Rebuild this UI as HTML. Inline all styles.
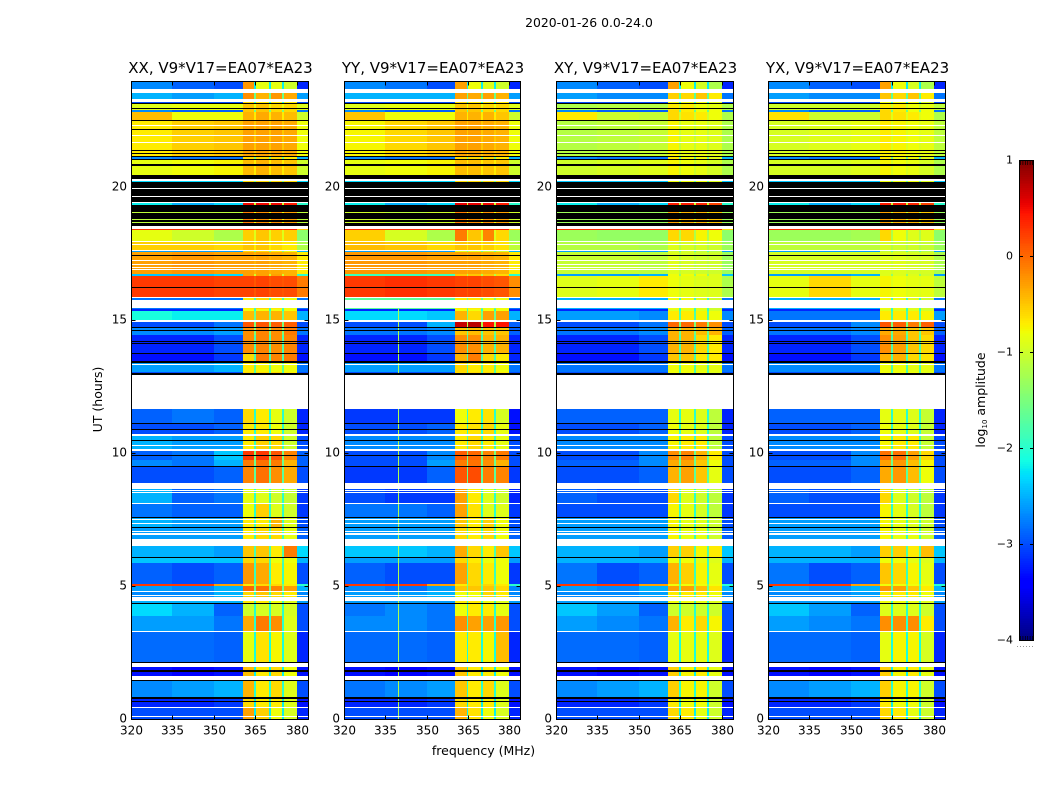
<!DOCTYPE html>
<html lang="en">
<head>
<meta charset="utf-8">
<title>2020-01-26 0.0-24.0</title>
<style>
html,body{margin:0;padding:0;background:#fff;width:1050px;height:800px;overflow:hidden}
svg{display:block}
text{font-family:"DejaVu Sans","Liberation Sans",sans-serif;fill:#000}
</style>
</head>
<body>
<svg id="chart" xmlns="http://www.w3.org/2000/svg" width="1050" height="800" viewBox="0 0 1050 800">
<rect x="0" y="0" width="1050" height="800" fill="#fff"/>
<text x="589" y="27" font-size="12.4" text-anchor="middle">2020-01-26 0.0-24.0</text>
<text x="483.5" y="755" font-size="12.5" text-anchor="middle">frequency (MHz)</text>
<text transform="translate(102,399.5) rotate(-90)" font-size="12.5" text-anchor="middle">UT (hours)</text>
<text transform="translate(985,400) rotate(-90)" font-size="12.5" text-anchor="middle">log<tspan font-size="7" dy="2">10</tspan><tspan dy="-2"> amplitude</tspan></text>
<g id="panels"></g>
<g id="colorbar"></g>
</svg>
<script>
// Edges of the time blocks, in UT hours, top to bottom
const timeEdges = [24,23.59,23.21,23.14,22.91,22.84,22.53,21.14,21.07,20.47,19.41,19.34,18.43,18.40,17.98,17.64,17.57,16.74,16.65,15.84,15.76,15.42,15.35,14.93,14.75,14.45,13.73,13.43,13.05,12.94,11.66,11.14,10.72,10.12,9.74,9.52,8.86,8.65,8.11,7.60,7.22,6.77,6.51,6.09,5.87,5.08,5.00,4.82,4.44,4.33,3.87,3.31,2.14,1.62,1.43,0.83,0.45,0];
// Frequency bin edges in MHz
const freqEdges = [320,335,350,360.5,364.6,365.2,369.9,370.5,374.7,375.3,380,384];
// Which value of a block row each frequency bin reads
const binValueIndex = [0,1,2,3,7,4,7,5,7,6,8];
const xTicks = [320,335,350,365,380];
const yTicks = [0,5,10,15,20];
const colorbarTicks = [1,0,-1,-2,-3,-4];
const panelTitles = ["XX, V9*V17=EA07*EA23","YY, V9*V17=EA07*EA23","XY, V9*V17=EA07*EA23","YX, V9*V17=EA07*EA23"];
// Hours with no data (drawn white)
const noDataHours = [[23.56,23.70],[23.21,23.31],[22.30,22.34],[21.93,21.97],[21.67,21.71],[20.24,20.31],[19.95,19.99],[19.65,19.69],[19.42,19.46],[18.45,18.55],[17.96,17.99],[17.82,17.86],[17.61,17.64],[17.25,17.28],[17.09,17.13],[16.97,17.00],[16.89,16.92],[15.84,15.86],[15.45,15.76],[14.94,15.01],[13.33,13.37],[11.65,12.94],[10.65,10.72],[10.27,10.31],[10.10,10.14],[8.65,8.86],[8.58,8.62],[8.53,8.55],[8.08,8.11],[7.47,7.51],[7.35,7.38],[7.04,7.07],[6.94,6.98],[6.52,6.78],[4.78,4.82],[4.65,4.68],[4.45,4.59],[3.27,3.31],[1.94,2.11],[1.47,1.62],[0.41,0.45],[0.08,0.11]];
// Flagged hours (drawn black)
const flaggedHours = [[23.14,23.17],[22.97,23.00],[22.51,22.55],[22.14,22.18],[21.39,21.42],[21.26,21.29],[21.14,21.18],[21.04,21.08],[20.82,20.86],[20.31,20.47],[19.99,20.20],[19.69,19.95],[19.46,19.65],[19.07,19.34],[18.82,19.04],[18.68,18.77],[18.55,18.64],[17.42,17.46],[16.21,16.25],[14.71,14.75],[14.60,14.63],[14.18,14.22],[14.11,14.15],[13.74,13.78],[13.40,13.45],[12.94,13.03],[11.10,11.14],[10.87,10.91],[10.46,10.50],[9.91,9.94],[9.47,9.51],[7.57,7.61],[7.19,7.22],[6.06,6.09],[4.32,4.35],[2.12,2.16],[1.82,1.86],[1.75,1.79],[1.43,1.47],[0.74,0.82],[0.64,0.68]];
// log10 amplitude per time block: low1, low2, low3, band1, band2, band3, band4, band gaps, high
const valuesXX = [
[-2.7,-2.9,-3,-.25,-.85,-.85,-1,-2.2,-3.2],[-2.5,-2.6,-2.5,-.2,-.4,-.25,-.35,-1.6,-2.6],[-3,-3,-3,-.6,-.7,-.7,-.7,-2,-3],[-.9,-.85,-.85,-.5,-.5,-.6,-.6,-.8,-.9],[-2.7,-2.9,-2.9,-.5,-.5,-.6,-.6,-1.5,-2.8],[-.45,-.8,-.8,-.4,-.35,-.4,-.45,-.7,-1],
[-.7,-.55,-.5,-.3,-.3,-.3,-.35,-.5,-.8],[-2.7,-2.8,-2.8,-.6,-.6,-.6,-.7,-1.5,-2.5],[-.85,-.8,-.75,-.45,-.4,-.45,-.5,-.7,-1],[-2.3,-2.3,-2.3,-.6,-.6,-.6,-.6,-1.5,-2.3],[-2.2,-2.5,-2.3,.5,.5,.5,.4,-1,-2],[-1.1,-1.1,-1.1,-.1,-.2,-.2,-.3,-.8,-1.1],
[.3,.3,.3,.4,.4,.4,.4,.3,-.5],[-.85,-1,-1.2,-.55,-.5,-.55,-.55,-.9,-1.4],[-.55,-.55,-.6,-.5,-.5,-.6,-.7,-.7,-1.2],[-2.6,-2.6,-2.6,-.6,-.6,-.7,-.8,-1.5,-2.5],[-.3,-.25,-.3,-.3,-.3,-.35,-.4,-.4,-.7],[-2.4,-2.4,-2.3,-.3,-.3,-.3,-.4,-1,-2],
[.25,.25,.2,.2,.2,.15,.15,.1,-.1],[-2.8,-2.8,-2.8,-.7,-.6,-.7,-.8,-1.8,-2.8],[-2.8,-2.8,-2.8,-.7,-.6,-.7,-.8,-1.8,-2.8],[-3.2,-3.2,-3.2,-.8,-.8,-.8,-.8,-2,-3.2],[-2.1,-2.2,-2.2,-.45,-.4,-.4,-.5,-1.6,-2.5],[-3,-3,-2.8,.1,.1,.05,.05,-1.5,-3],
[-2.7,-2.7,-2.6,-.2,-.15,-.2,-.1,-1.5,-2.8],[-3.2,-3.2,-3,-.2,-.15,-.2,-.15,-1.8,-3.2],[-3.3,-3.3,-3.1,-.6,-.1,-.15,-.1,-1.8,-3.3],[-2.6,-2.6,-2.5,-.7,-.75,-.8,-.8,-1.7,-2.8],[-3,-3,-3,-.6,-.6,-.6,-.7,-1.8,-3],[-3,-3,-3,-.7,-.7,-.7,-.7,-2,-3],
[-2.9,-2.8,-2.9,-.6,-.7,-.85,-1,-2,-3.2],[-3,-3,-2.9,-.7,-.7,-.8,-1,-2,-3.2],[-2.5,-2.6,-2.6,-.7,-.55,-.6,-1,-1.9,-3],[-2.9,-2.8,-2.4,.25,.25,.1,-.15,-1.5,-2.9],[-2.7,-2.8,-2.5,-.1,-.05,-.1,-.4,-1.6,-2.9],[-3,-3,-2.9,-.15,-.05,-.2,-.35,-1.7,-3],
[-3,-3,-3,-.7,-.7,-.7,-.7,-2,-3],[-2.5,-2.9,-2.8,-.85,-.9,-1,-1.05,-2,-3.1],[-2.8,-2.9,-2.9,-.8,-.55,-.9,-1,-2,-3.1],[-2.5,-2.6,-2.6,-.7,-.7,-.4,-.9,-1.9,-3],[-2.6,-2.6,-2.6,-.7,-.6,-.6,-.85,-1.9,-2.9],[-3,-3,-3,-.7,-.7,-.7,-.7,-2,-3],
[-2.5,-2.5,-2.6,-.5,-.5,-.7,-.1,-1.8,-2.3],[-2.4,-2.4,-2.4,-.6,-.6,-.8,-.8,-1.8,-2.5],[-2.9,-3,-2.9,-.25,-.35,-.7,-.75,-1.9,-3],[.25,.25,-.3,-.7,-.6,-.6,-.7,-1.5,-2],[-2.6,-2.7,-2.5,0,-.05,-.15,-.3,-1.6,-2.5],[-2.7,-2.7,-2.5,-.6,-.5,-.6,-.7,-1.9,-2.7],
[-2.5,-2.5,-2.5,-.7,-.7,-.8,-.9,-1.9,-2.6],[-2.3,-2.5,-2.9,-1,-.95,-.95,-.95,-2,-3],[-2.6,-2.6,-2.8,-.35,-.1,-.2,-.9,-2,-3],[-2.85,-2.85,-2.9,-.85,-.65,-.75,-.9,-2.1,-3.2],[-3.3,-3.4,-3.3,-.45,-.7,-.6,-.8,-2.2,-3.3],[-3,-3,-3,-.6,-.7,-.7,-.8,-2.2,-3],
[-2.7,-2.6,-2.5,-.4,-.7,-.6,-.9,-2,-3],[-3.2,-3.2,-3.1,-.6,-.7,-.7,-.9,-2.2,-3.3],[-3,-3,-3,-.3,-.55,-.8,-.95,-2.2,-3.2]];
const valuesYY = [
[-2.7,-2.8,-3,-.3,-.8,-.9,-1,-2.2,-3.2],[-2.5,-2.5,-2.5,-.3,-.35,-.3,-.4,-1.6,-2.6],[-3,-3,-3,-.6,-.7,-.7,-.7,-2,-3],[-.9,-.85,-.85,-.5,-.5,-.6,-.6,-.8,-.9],[-2.7,-2.9,-2.9,-.5,-.5,-.6,-.6,-1.5,-2.8],[-.5,-.8,-.8,-.4,-.4,-.4,-.5,-.7,-1],
[-.75,-.6,-.5,-.3,-.3,-.35,-.4,-.5,-.8],[-2.7,-2.8,-2.8,-.6,-.6,-.6,-.7,-1.5,-2.5],[-.85,-.8,-.75,-.45,-.45,-.5,-.5,-.7,-1],[-2.3,-2.3,-2.3,-.6,-.6,-.6,-.6,-1.5,-2.3],[-2.2,-2.5,-2.3,.55,.55,.5,.4,-1,-2],[-1,-1.1,-1,-.1,-.2,-.2,-.3,-.8,-1],
[.3,.3,.3,.4,.4,.4,.4,.3,-.5],[-.55,-.95,-1.2,-.1,-.5,-.15,-.6,-.9,-1.3],[-.45,-.5,-.6,-.5,-.5,-.55,-.65,-.7,-1.1],[-2.6,-2.6,-2.6,-.9,-.9,-1,-1,-1.6,-2.5],[-.25,-.25,-.3,-.3,-.3,-.35,-.4,-.4,-.7],[-1.9,-1.9,-1.9,-.5,-.5,-.5,-.6,-1.2,-2],
[.25,.3,.25,.2,.2,.15,.1,.1,-.2],[-1.7,-1.7,-1.7,-.7,-.7,-.8,-.8,-1.5,-2.8],[-1.7,-1.7,-1.7,-.7,-.7,-.8,-.8,-1.5,-2.8],[-3.2,-3.2,-3.2,-.8,-.8,-.8,-.8,-2,-3.2],[-2.3,-2.3,-2.4,-.4,-.6,-.3,-.3,-1.6,-2.5],[-3,-3,-2.5,.7,.75,.45,.45,-1.2,-2.9],
[-2.8,-2.8,-2.7,-.5,-.45,-.5,-.5,-1.6,-2.9],[-3.2,-3.2,-3,-.2,-.2,-.4,-.4,-1.8,-3.2],[-3.3,-3.3,-3.1,-.4,-.1,-.6,-.7,-1.8,-3.2],[-2.6,-2.6,-2.6,-.6,-.7,-.7,-.8,-1.7,-2.8],[-3,-3,-3,-.6,-.6,-.6,-.7,-1.8,-3],[-3,-3,-3,-.7,-.7,-.7,-.7,-2,-3],
[-3.1,-3.1,-3.1,-.8,-.7,-.65,-.95,-2,-3.3],[-3,-3,-2.9,-.7,-.65,-.6,-.85,-2,-3.3],[-2.7,-2.7,-2.7,-.7,-.6,-.7,-.85,-1.9,-3],[-3,-3,-2.7,.05,0,-.15,-.1,-1.5,-3],[-3,-3,-2.6,-.1,-.05,-.2,-.4,-1.6,-3],[-3.1,-3.1,-2.9,.1,.15,-.1,-.15,-1.7,-3.1],
[-3,-3,-3,-.7,-.7,-.7,-.7,-2,-3],[-3,-3.1,-3.1,-.3,-.7,-.9,-1,-2,-3.2],[-2.8,-2.8,-2.9,-.3,-.65,-.9,-.9,-2,-3.1],[-2.6,-2.6,-2.6,-.5,-.7,-.55,-.8,-1.9,-3],[-2.6,-2.6,-2.6,-.6,-.7,-.6,-.8,-1.9,-2.9],[-3,-3,-3,-.7,-.7,-.7,-.7,-2,-3],
[-2.4,-2.4,-2.5,-.35,-.6,-.7,-.5,-1.8,-2.4],[-2.6,-2.6,-2.6,-.6,-.7,-.8,-.8,-1.8,-2.6],[-2.9,-3,-3,-.3,-.6,-.7,-.8,-1.9,-3.1],[.25,.25,-.3,-.7,-.6,-.6,-.7,-1.5,-2],[-2.7,-2.8,-2.6,-.5,-.5,-.5,-.6,-1.7,-2.7],[-2.6,-2.6,-2.5,-.8,-.8,-.6,-.7,-1.9,-2.7],
[-2.6,-2.6,-2.6,-.7,-.7,-.8,-.9,-1.9,-2.6],[-2.8,-2.7,-2.8,-.8,-.7,-.7,-.85,-2,-3],[-2.7,-2.7,-2.8,-.2,-.3,-.3,-.25,-2,-3],[-2.85,-2.85,-2.9,-.7,-.7,-.75,-.45,-2.1,-3.2],[-3.3,-3.4,-3.3,-.5,-.7,-.7,-.8,-2.2,-3.3],[-3,-3,-3,-.6,-.7,-.7,-.8,-2.2,-3],
[-2.8,-2.7,-2.6,-.5,-.7,-.6,-.9,-2,-3],[-3.2,-3.2,-3.1,-.6,-.7,-.7,-.9,-2.2,-3.3],[-3,-3,-3,-.4,-.65,-.8,-.95,-2.2,-3.2]];
const valuesXY = [
[-2.7,-2.9,-3,-.3,-.8,-.95,-1.2,-2.2,-3.2],[-2.6,-2.7,-2.7,-.55,-.6,-.5,-.7,-1.7,-2.8],[-3,-3,-3,-.8,-.8,-.8,-.9,-2,-3],[-1.2,-1.15,-1.15,-.7,-.7,-.8,-.85,-1,-1.2],[-2.7,-2.9,-2.9,-.6,-.7,-.8,-.8,-1.6,-2.8],[-.7,-1,-1.05,-.6,-.65,-.7,-.8,-1,-1.2],
[-1.15,-1.1,-1.05,-.75,-.85,-.85,-.9,-1.05,-1.2],[-2.7,-2.8,-2.8,-.7,-.8,-.8,-.9,-1.6,-2.5],[-1,-.95,-.9,-.75,-.8,-.85,-.95,-1,-1.2],[-2.4,-2.4,-2.4,-.8,-.8,-.8,-.9,-1.6,-2.4],[-2.2,-2.5,-2.3,.4,.4,.35,.2,-1,-2],[-1.3,-1.3,-1.3,-.3,-.4,-.4,-.5,-1,-1.3],
[.3,.3,.3,.4,.4,.4,.3,.3,-.6],[-1.3,-1.35,-1.35,-.6,-.6,-.75,-.8,-1.2,-1.4],[-1.15,-1.15,-1.2,-.9,-.95,-.95,-1,-1.15,-1.3],[-2.6,-2.6,-2.6,-1,-1,-1.1,-1.2,-1.7,-2.6],[-1.05,-1.05,-1.1,-.9,-.95,-1,-1,-1.1,-1.3],[-2.6,-2.6,-2.5,-.8,-.8,-.8,-.9,-1.4,-2.4],
[-.9,-.85,-.7,-.8,-.85,-.9,-.9,-.95,-1.2],[-2.5,-2.5,-2.5,-.8,-.8,-.9,-1,-1.9,-2.8],[-2.5,-2.5,-2.5,-.8,-.8,-.9,-1,-1.9,-2.8],[-3.2,-3.2,-3.2,-.9,-.9,-.9,-1,-2,-3.2],[-2.6,-2.6,-2.7,-.7,-.7,-.75,-.8,-1.8,-2.7],[-3,-3,-2.8,0,0,-.1,-.2,-1.5,-3],
[-2.8,-2.8,-2.7,-.4,-.4,-.45,-.4,-1.6,-2.9],[-3.2,-3.2,-3,-.4,-.4,-.6,-.7,-1.8,-3.2],[-3.3,-3.3,-3.1,-.5,-.5,-.7,-.7,-1.8,-3.3],[-2.8,-2.8,-2.8,-.8,-.8,-.85,-.85,-1.8,-2.8],[-3,-3,-3,-.8,-.8,-.8,-.9,-1.8,-3],[-3,-3,-3,-.8,-.8,-.8,-.8,-2,-3],
[-2.9,-2.9,-2.9,-.85,-.85,-.9,-1.1,-2,-3.2],[-3,-3,-2.9,-.8,-.85,-.9,-1.1,-2,-3.2],[-2.7,-2.7,-2.7,-.75,-.7,-.7,-1.1,-1.9,-3],[-3,-3,-2.7,-.2,-.15,-.4,-.7,-1.6,-3],[-2.9,-2.9,-2.7,-.35,-.3,-.5,-.8,-1.6,-3],[-3,-3,-2.9,-.4,-.3,-.5,-.85,-1.7,-3],
[-3,-3,-3,-.8,-.8,-.8,-.9,-2,-3],[-2.9,-3,-3,-.6,-.9,-1,-1.1,-2,-3.1],[-3,-3,-3,-.75,-.85,-.95,-1.1,-2,-3.1],[-2.6,-2.6,-2.6,-.75,-.85,-.9,-1,-1.9,-3],[-2.6,-2.6,-2.6,-.75,-.85,-.85,-1,-1.9,-2.9],[-3,-3,-3,-.8,-.8,-.8,-.9,-2,-3],
[-2.5,-2.5,-2.6,-.55,-.55,-.75,-.7,-1.8,-2.4],[-2.5,-2.5,-2.5,-.8,-.8,-.85,-.9,-1.9,-2.5],[-2.8,-3,-2.9,-.4,-.55,-.75,-.85,-1.9,-3],[.25,.25,-.3,-.8,-.8,-.8,-.8,-1.5,-2],[-2.6,-2.7,-2.5,-.3,-.3,-.45,-.65,-1.7,-2.5],[-2.7,-2.7,-2.6,-.7,-.7,-.7,-.8,-1.9,-2.7],
[-2.6,-2.6,-2.6,-.8,-.8,-.85,-.9,-1.9,-2.6],[-2.4,-2.6,-2.9,-1,-1,-1,-1,-2,-3],[-2.6,-2.7,-2.8,-.4,-.7,-.6,-.75,-2,-3],[-2.85,-2.85,-2.9,-.85,-.85,-.85,-.9,-2.1,-3.2],[-3.3,-3.4,-3.3,-.55,-.75,-.7,-.85,-2.2,-3.3],[-3,-3,-3,-.7,-.8,-.8,-.85,-2.2,-3],
[-2.7,-2.6,-2.5,-.55,-.75,-.75,-1,-2,-3],[-3.2,-3.2,-3.1,-.7,-.8,-.8,-1,-2.2,-3.3],[-3,-3,-3,-.6,-.7,-.85,-1,-2.2,-3.2]];
const valuesYX = [
[-2.7,-2.9,-3,-.3,-.8,-.95,-1.2,-2.2,-3.2],[-2.6,-2.7,-2.7,-.5,-.6,-.5,-.7,-1.7,-2.8],[-3,-3,-3,-.8,-.8,-.8,-.9,-2,-3],[-1,-1,-1,-.7,-.7,-.8,-.85,-1,-1.1],[-2.7,-2.9,-2.9,-.6,-.7,-.8,-.8,-1.6,-2.8],[-.65,-1,-1,-.6,-.65,-.7,-.8,-.9,-1.2],
[-.95,-.9,-.85,-.7,-.75,-.8,-.85,-.9,-1.1],[-2.7,-2.8,-2.8,-.7,-.8,-.8,-.9,-1.6,-2.5],[-.95,-.95,-.9,-.75,-.8,-.85,-.95,-.95,-1.2],[-2.4,-2.4,-2.4,-.8,-.8,-.8,-.9,-1.6,-2.4],[-2.2,-2.5,-2.3,.4,.4,.35,.2,-1,-2],[-1.3,-1.3,-1.3,-.3,-.4,-.4,-.5,-1,-1.3],
[.3,.3,.3,.4,.4,.4,.3,.3,-.6],[-1.3,-1.3,-1.25,-.6,-.8,-.9,-.9,-1.2,-1.4],[-1.1,-1.1,-1.1,-.95,-1,-1,-1.05,-1.15,-1.3],[-2.6,-2.6,-2.6,-1.1,-1.1,-1.2,-1.2,-1.7,-2.6],[-.95,-.95,-.95,-.9,-.9,-.95,-.95,-1,-1.2],[-2.6,-2.6,-2.5,-.9,-.9,-.9,-1,-1.4,-2.6],
[-.85,-.6,-.85,-.75,-.8,-.85,-.85,-.9,-1.1],[-2.5,-2.5,-2.5,-.8,-.8,-.9,-1,-1.9,-2.8],[-2.5,-2.5,-2.5,-.8,-.8,-.9,-1,-1.9,-2.8],[-3.2,-3.2,-3.2,-.9,-.9,-.9,-1,-2,-3.2],[-2.8,-2.8,-2.8,-.7,-.7,-.7,-.75,-1.8,-2.6],[-3,-3,-2.7,.1,.05,-.1,.05,-1.5,-3],
[-2.8,-2.8,-2.7,-.35,-.35,-.5,-.5,-1.6,-2.9],[-3.2,-3.2,-3,-.2,-.3,-.5,-.6,-1.8,-3.2],[-3.3,-3.3,-3.1,-.4,-.4,-.6,-.65,-1.8,-3.3],[-2.7,-2.7,-2.7,-.8,-.8,-.85,-.85,-1.8,-2.8],[-3,-3,-3,-.8,-.8,-.8,-.9,-1.8,-3],[-3,-3,-3,-.8,-.8,-.8,-.8,-2,-3],
[-2.9,-2.9,-2.9,-.85,-.85,-.9,-1.05,-2,-3.2],[-3,-3,-2.9,-.8,-.85,-.9,-1.05,-2,-3.2],[-2.7,-2.7,-2.7,-.75,-.7,-.7,-1.05,-1.9,-3],[-3,-3,-2.7,-.05,-.05,-.3,-.6,-1.6,-3],[-2.9,-2.9,-2.7,-.3,-.25,-.45,-.75,-1.6,-3],[-3,-3,-2.9,-.35,-.25,-.45,-.8,-1.7,-3],
[-3,-3,-3,-.8,-.8,-.8,-.9,-2,-3],[-2.9,-3,-3,-.6,-.9,-1,-1.1,-2,-3.1],[-3,-3,-3,-.75,-.85,-.95,-1.1,-2,-3.1],[-2.6,-2.6,-2.6,-.75,-.85,-.9,-1,-1.9,-3],[-2.6,-2.6,-2.6,-.75,-.85,-.85,-1,-1.9,-2.9],[-3,-3,-3,-.8,-.8,-.8,-.9,-2,-3],
[-2.5,-2.5,-2.6,-.55,-.55,-.7,-.45,-1.8,-2.4],[-2.5,-2.5,-2.5,-.8,-.8,-.85,-.9,-1.9,-2.5],[-2.8,-3,-2.9,-.5,-.6,-.75,-.85,-1.9,-3],[.25,.25,-.3,-.8,-.8,-.8,-.8,-1.5,-2],[-2.6,-2.7,-2.5,-.25,-.3,-.5,-.7,-1.7,-2.5],[-2.7,-2.7,-2.6,-.7,-.7,-.7,-.8,-1.9,-2.7],
[-2.6,-2.6,-2.6,-.8,-.8,-.85,-.9,-1.9,-2.6],[-2.4,-2.6,-2.9,-.9,-.9,-.9,-1,-2,-3],[-2.6,-2.7,-2.8,-.2,-.2,-.2,-.7,-2,-3],[-2.85,-2.85,-2.9,-.85,-.75,-.75,-.95,-2.1,-3.2],[-3.3,-3.4,-3.3,-.55,-.75,-.7,-.85,-2.2,-3.3],[-3,-3,-3,-.7,-.8,-.8,-.85,-2.2,-3],
[-2.7,-2.6,-2.5,-.55,-.75,-.75,-1,-2,-3],[-3.2,-3.2,-3.1,-.7,-.8,-.8,-1,-2.2,-3.3],[-3,-3,-3,-.6,-.7,-.85,-1,-2.2,-3.2]];
// Narrow bright channel visible in YY below about 15.4 h
const rfiFreqYY = [339.8];
const rfiLevelYY = [-1.2];
const rfiHoursYY = [0,15.42];

const panelValues = [valuesXX,valuesYY,valuesXY,valuesYX];
const panelLeft = [131,344,556,768];
const panelWidth = [177,176,177,177];
const plotTop = 81, plotHeight = 638;
const SVGNS = "http://www.w3.org/2000/svg";
const hMax = 24, fMin = 320, fMax = 384, vMin = -4, vMax = 1;

function seg(t, pts){
  for(let i=1;i<pts.length;i++){
    if(t<=pts[i][0]){
      const a=pts[i-1], b=pts[i];
      return a[1]+(b[1]-a[1])*(t-a[0])/(b[0]-a[0]);
    }
  }
  return pts[pts.length-1][1];
}
function jet(v){
  const t=Math.max(0,Math.min(1,(v-vMin)/(vMax-vMin)));
  const r=seg(t,[[0,0],[.35,0],[.66,1],[.89,1],[1,.5]]);
  const g=seg(t,[[0,0],[.125,0],[.375,1],[.64,1],[.91,0],[1,0]]);
  const b=seg(t,[[0,.5],[.11,1],[.34,1],[.65,0],[1,0]]);
  return "rgb("+Math.round(r*255)+","+Math.round(g*255)+","+Math.round(b*255)+")";
}
function xScale(p,f){ return panelLeft[p]+(f-fMin)/(fMax-fMin)*panelWidth[p]; }
function yScale(h){ return plotTop+(hMax-h)/hMax*plotHeight; }
function mk(tag,attrs,parent){
  const el=document.createElementNS(SVGNS,tag);
  for(const k in attrs){ el.setAttribute(k,attrs[k]); }
  parent.appendChild(el);
  return el;
}
function band(parent,x1,x2,h1,h2,fill){
  const xa=Math.round(x1), xb=Math.max(xa+1,Math.round(x2));
  const ya=Math.round(yScale(h1)), yb=Math.max(ya+1,Math.round(yScale(h2)));
  return mk("rect",{x:xa,y:ya,width:xb-xa,height:yb-ya,fill:fill,"shape-rendering":"crispEdges"},parent);
}

const panelsG=document.getElementById("panels");
panelTitles.forEach(function(title,p){
  const g=mk("g",{},panelsG);
  
  
  const values=panelValues[p];
  values.forEach(function(row,r){
    for(let c=0;c<binValueIndex.length;c++){
      const cell=band(g,xScale(p,freqEdges[c]),xScale(p,freqEdges[c+1]),timeEdges[r],timeEdges[r+1],jet(row[binValueIndex[c]]));
      
      
    }
  });
  if(p===1){
    rfiFreqYY.forEach(function(f,i){
      const line=band(g,xScale(p,f),xScale(p,f)+1,rfiHoursYY[1],rfiHoursYY[0],jet(rfiLevelYY[i]));
      
      
    });
  }
  noDataHours.forEach(function(m){
    const w=band(g,panelLeft[p],panelLeft[p]+panelWidth[p],m[1],m[0],"#fff");
    
    
  });
  flaggedHours.forEach(function(m){
    const k=band(g,panelLeft[p],panelLeft[p]+panelWidth[p],m[1],m[0],"#000");
    
    
  });
  const L=panelLeft[p], W=panelWidth[p];
  const frame=mk("rect",{x:L+.5,y:plotTop+.5,width:W,height:plotHeight,fill:"none",stroke:"#000","stroke-width":1},g);
  
  
  xTicks.forEach(function(f){
    const x=Math.round(xScale(p,f))+.5;
    const t1=mk("line",{x1:x,x2:x,y1:plotTop+plotHeight+.5,y2:plotTop+plotHeight-3.5,stroke:"#000"},g);
    
    
    const t2=mk("line",{x1:x,x2:x,y1:plotTop+.5,y2:plotTop+4.5,stroke:"#000"},g);
    
    
    const lab=mk("text",{x:x,y:plotTop+plotHeight+15.5,"font-size":12,"text-anchor":"middle"},g);
    
    
    lab.textContent=f;
  });
  yTicks.forEach(function(h){
    const y=Math.round(yScale(h))+.5;
    const t1=mk("line",{x1:L+.5,x2:L+4.5,y1:y,y2:y,stroke:"#000"},g);
    
    
    const t2=mk("line",{x1:L+W+.5,x2:L+W-3.5,y1:y,y2:y,stroke:"#000"},g);
    
    
    const lab=mk("text",{x:L-4,y:y+3,"font-size":12,"text-anchor":"end"},g);
    
    
    lab.textContent=h;
  });
  const tt=mk("text",{x:L+W/2+1,y:plotTop-8,"font-size":15,"text-anchor":"middle"},g);
  
  
  tt.textContent=title;
});

const cbG=document.getElementById("colorbar");
const cbL=1019, cbW=15, cbT=160, cbH=480;
function cbY(v){ return cbT+(vMax-v)/(vMax-vMin)*cbH; }
for(let i=0;i<256;i++){
  const v=vMin+(i+.5)/256*(vMax-vMin);
  const y2=Math.round(cbY(vMin+i/256*(vMax-vMin)));
  const y1=Math.round(cbY(vMin+(i+1)/256*(vMax-vMin)));
  const s=mk("rect",{x:cbL,y:y1,width:cbW,height:y2-y1,fill:jet(v),"shape-rendering":"crispEdges"},cbG);
  
  
}
const cbFrame=mk("rect",{x:cbL+.5,y:cbT+.5,width:cbW-1,height:cbH,fill:"none",stroke:"#000"},cbG);


colorbarTicks.forEach(function(v){
  const y=Math.round(cbY(v))+.5;
  const a=mk("line",{x1:cbL,x2:cbL+4,y1:y,y2:y,stroke:"#000"},cbG);
  
  
  const b=mk("line",{x1:cbL+cbW-4,x2:cbL+cbW,y1:y,y2:y,stroke:"#000"},cbG);
  
  
  const lab=mk("text",{x:cbL-6,y:y+3,"font-size":11,"text-anchor":"end"},cbG);
  
  
  lab.textContent=(v<0?"\u2212"+(-v):String(v));
});
for(let i=0;i<6;i++){
  const x=cbL+1.5+i*2.4;
  const t=mk("line",{x1:x,x2:x,y1:cbT,y2:cbT+5,stroke:"#000","stroke-width":.7},cbG);
  
  
  const u=mk("line",{x1:x,x2:x,y1:cbT+cbH-4,y2:cbT+cbH,stroke:"#000","stroke-width":.7},cbG);
  
  
}
const dots=mk("line",{x1:1017,x2:1035,y1:646.5,y2:646.5,stroke:"#999","stroke-width":1,"stroke-dasharray":"1 2"},cbG);


</script>
</body>
</html>
